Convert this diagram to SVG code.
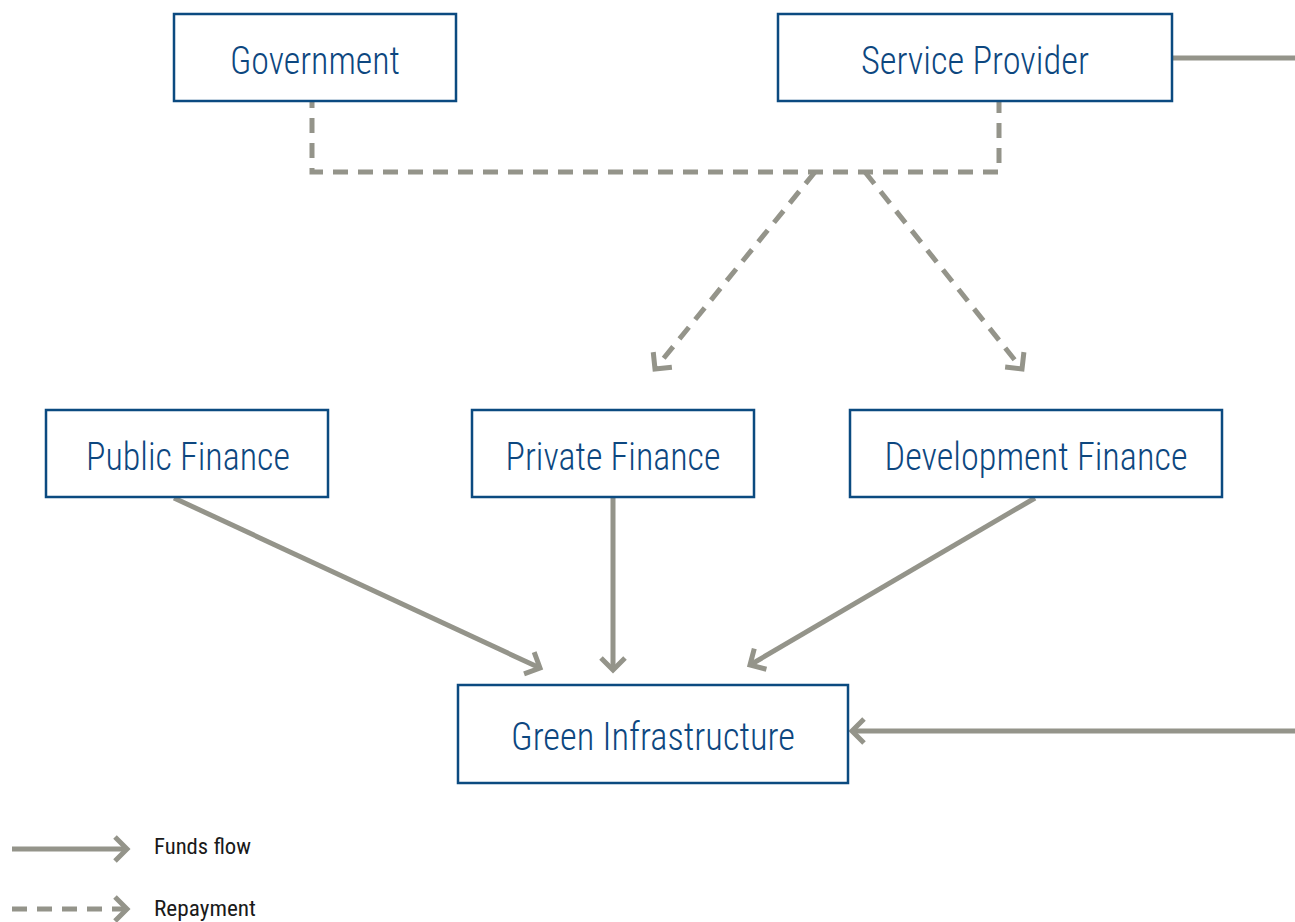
<svg xmlns="http://www.w3.org/2000/svg" width="1295" height="922" viewBox="0 0 1295 922">
<style>
.box{fill:#fff;stroke:#0b4a80;stroke-width:2.5}
.lbl{font-family:"Roboto Condensed","Liberation Sans Narrow","DejaVu Sans Condensed","Roboto",sans-serif;font-size:38px;font-weight:300;fill:#0d477f;text-anchor:middle}
.leg{font-family:"Roboto Condensed","Liberation Sans Narrow","DejaVu Sans Condensed","Roboto",sans-serif;font-size:22px;font-weight:400;fill:#1a1a1a}
.ln{fill:none;stroke:#94948a;stroke-width:5}
.dash{stroke-dasharray:15 10}
</style>
<defs>
<marker id="ah" markerUnits="userSpaceOnUse" markerWidth="30" markerHeight="30" viewBox="-16 -15 20 30" refX="0" refY="0" orient="auto">
<path d="M-12,-12 L0,0 L-12,12" fill="none" stroke="#94948a" stroke-width="5"/>
</marker>
</defs>
<g id="connectors">
<path class="ln" d="M1172,58 H1295"/>
<path class="ln" d="M1295,731 H852" marker-end="url(#ah)"/>
<path class="ln dash" d="M312,101 V172 H999 V101" stroke-dashoffset="8"/>
<path class="ln dash" d="M815,172 L655,369" marker-end="url(#ah)"/>
<path class="ln dash" d="M865,172 L1022,369" marker-end="url(#ah)"/>
<path class="ln" d="M174,498 L540,668" marker-end="url(#ah)"/>
<path class="ln" d="M613,498 V670" marker-end="url(#ah)"/>
<path class="ln" d="M1035,498 L750,665" marker-end="url(#ah)"/>
<path class="ln" d="M12,849 H127" marker-end="url(#ah)"/>
<path class="ln dash" d="M12,909 H127" marker-end="url(#ah)"/>
</g>
<g id="government"><rect class="box" x="174" y="14" width="282" height="87"/><text class="lbl" x="315" y="74" textLength="170" lengthAdjust="spacingAndGlyphs">Government</text></g>
<g id="service-provider"><rect class="box" x="778" y="14" width="394" height="87"/><text class="lbl" x="975" y="74" textLength="228" lengthAdjust="spacingAndGlyphs">Service Provider</text></g>
<g id="public-finance"><rect class="box" x="46" y="410" width="282" height="87"/><text class="lbl" x="188" y="470" textLength="204" lengthAdjust="spacingAndGlyphs">Public Finance</text></g>
<g id="private-finance"><rect class="box" x="472" y="410" width="282" height="87"/><text class="lbl" x="613" y="470" textLength="215" lengthAdjust="spacingAndGlyphs">Private Finance</text></g>
<g id="development-finance"><rect class="box" x="850" y="410" width="372" height="87"/><text class="lbl" x="1036" y="470" textLength="303" lengthAdjust="spacingAndGlyphs">Development Finance</text></g>
<g id="green-infrastructure"><rect class="box" x="458" y="685" width="390" height="98"/><text class="lbl" x="653" y="750" textLength="284" lengthAdjust="spacingAndGlyphs">Green Infrastructure</text></g>
<g id="legend">
<text class="leg" x="154" y="854" textLength="97" lengthAdjust="spacingAndGlyphs">Funds flow</text>
<text class="leg" x="154" y="916" textLength="102" lengthAdjust="spacingAndGlyphs">Repayment</text>
</g>
</svg>
